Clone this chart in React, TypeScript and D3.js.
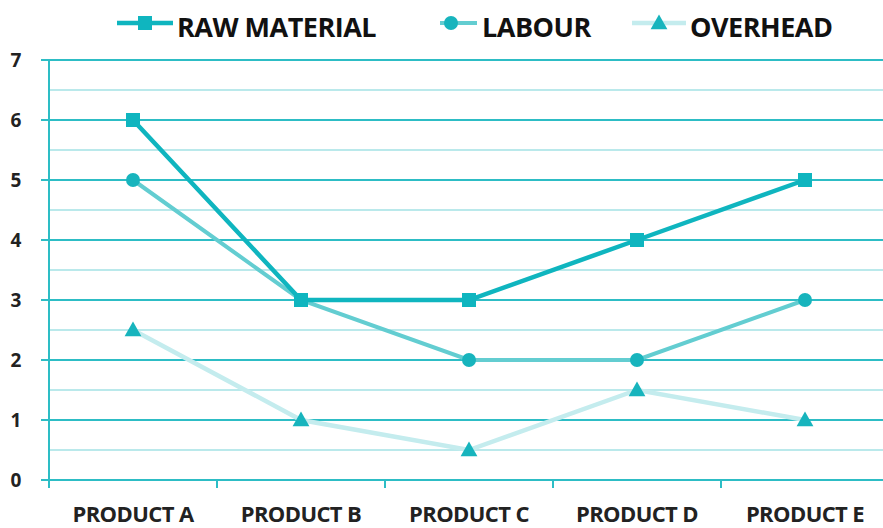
import React from "react";
import * as d3 from "d3";

const categories = ["PRODUCT A", "PRODUCT B", "PRODUCT C", "PRODUCT D", "PRODUCT E"];
const rawMaterial = [6, 3, 3, 4, 5];
const labour = [5, 3, 2, 2, 3];
const overhead = [2.5, 1, 0.5, 1.5, 1];
const yTicks = [0, 1, 2, 3, 4, 5, 6, 7];
const yMinorTicks = [0.5, 1.5, 2.5, 3.5, 4.5, 5.5, 6.5];

const W = 883;
const H = 528;
const left = 49;
const right = 889;
const top = 60;
const bottom = 480;

const FONT = "'Open Sans', sans-serif";

export default function App() {
  const x = d3.scaleBand<string>().domain(categories).range([left, right]).paddingInner(0).paddingOuter(0);
  const cx = (c: string) => (x(c) as number) + x.bandwidth() / 2;
  const y = d3.scaleLinear().domain([0, 7]).range([bottom, top]);

  const straight = d3.line<number>().x((_, i) => cx(categories[i])).y((d) => y(d));

  const c1 = "#0fb5bf";
  const c2 = "#63cdd1";
  const c3 = "#c4ecee";
  const marker = "#17b4bd";

  const tri = (px: number, py: number, s: number) =>
    `M${px},${py - s * 0.6} L${px + s * 0.6},${py + s * 0.45} L${px - s * 0.6},${py + s * 0.45} Z`;

  const boundaries = d3.range(categories.length + 1).map((i) => left + i * x.bandwidth());

  return (
    <svg width={W} height={H} style={{ position: "absolute", left: 0, top: 0, background: "#fff" }}>
      {yMinorTicks.map((t) => (
        <line key={"m" + t} x1={left} x2={W} y1={y(t)} y2={y(t)} stroke="#a3e2e5" strokeWidth={1.5} />
      ))}
      {yTicks.map((t) => (
        <line key={"g" + t} x1={left - 8} x2={W} y1={y(t)} y2={y(t)} stroke="#2dbdc5" strokeWidth={2} />
      ))}
      <line x1={left} x2={left} y1={top} y2={bottom + 8} stroke="#2dbdc5" strokeWidth={2} />
      {boundaries.map((b, i) => (
        <line key={"xt" + i} x1={b} x2={b} y1={bottom} y2={bottom + 8} stroke="#2dbdc5" strokeWidth={2} />
      ))}
      {yTicks.map((t) => (
        <text
          key={"yl" + t}
          x={16}
          y={y(t)}
          dy="0.36em"
          textAnchor="middle"
          fontFamily={FONT}
          fontWeight={700}
          fontSize={19}
          fill="#222"
        >
          {t}
        </text>
      ))}
      {categories.map((c) => (
        <text
          key={c}
          x={cx(c)}
          y={522}
          textAnchor="middle"
          fontFamily={FONT}
          fontWeight={700}
          fontSize={22}
          letterSpacing={-0.6}
          fill="#222"
        >
          {c}
        </text>
      ))}

      <path d={straight(overhead) || ""} fill="none" stroke={c3} strokeWidth={4.5} />
      {overhead.map((v, i) => (
        <path key={"o" + i} d={tri(cx(categories[i]), y(v), 14)} fill={marker} />
      ))}
      <path d={straight(labour) || ""} fill="none" stroke={c2} strokeWidth={4} />
      {labour.map((v, i) => (
        <circle key={"l" + i} cx={cx(categories[i])} cy={y(v)} r={7} fill={marker} />
      ))}
      <path d={straight(rawMaterial) || ""} fill="none" stroke={c1} strokeWidth={4.5} />
      {rawMaterial.map((v, i) => (
        <rect key={"r" + i} x={cx(categories[i]) - 7} y={y(v) - 7} width={14} height={14} fill={c1} />
      ))}

      <g>
        <line x1={117} x2={173} y1={23} y2={23} stroke={c1} strokeWidth={4.5} />
        <rect x={138} y={16} width={14} height={14} fill={c1} />
        <text x={177} y={37} fontFamily={FONT} fontWeight={700} fontSize={27} letterSpacing={-0.5} fill="#111">
          RAW MATERIAL
        </text>
        <line x1={440} x2={477} y1={23} y2={23} stroke={c2} strokeWidth={4} />
        <circle cx={451} cy={23} r={7} fill={marker} />
        <text x={482} y={37} fontFamily={FONT} fontWeight={700} fontSize={27} letterSpacing={-0.5} fill="#111">
          LABOUR
        </text>
        <line x1={632} x2={686} y1={23} y2={23} stroke={c3} strokeWidth={4.5} />
        <path d={tri(659, 23, 14)} fill={marker} />
        <text x={690} y={37} fontFamily={FONT} fontWeight={700} fontSize={27} letterSpacing={-0.5} fill="#111">
          OVERHEAD
        </text>
      </g>
    </svg>
  );
}
